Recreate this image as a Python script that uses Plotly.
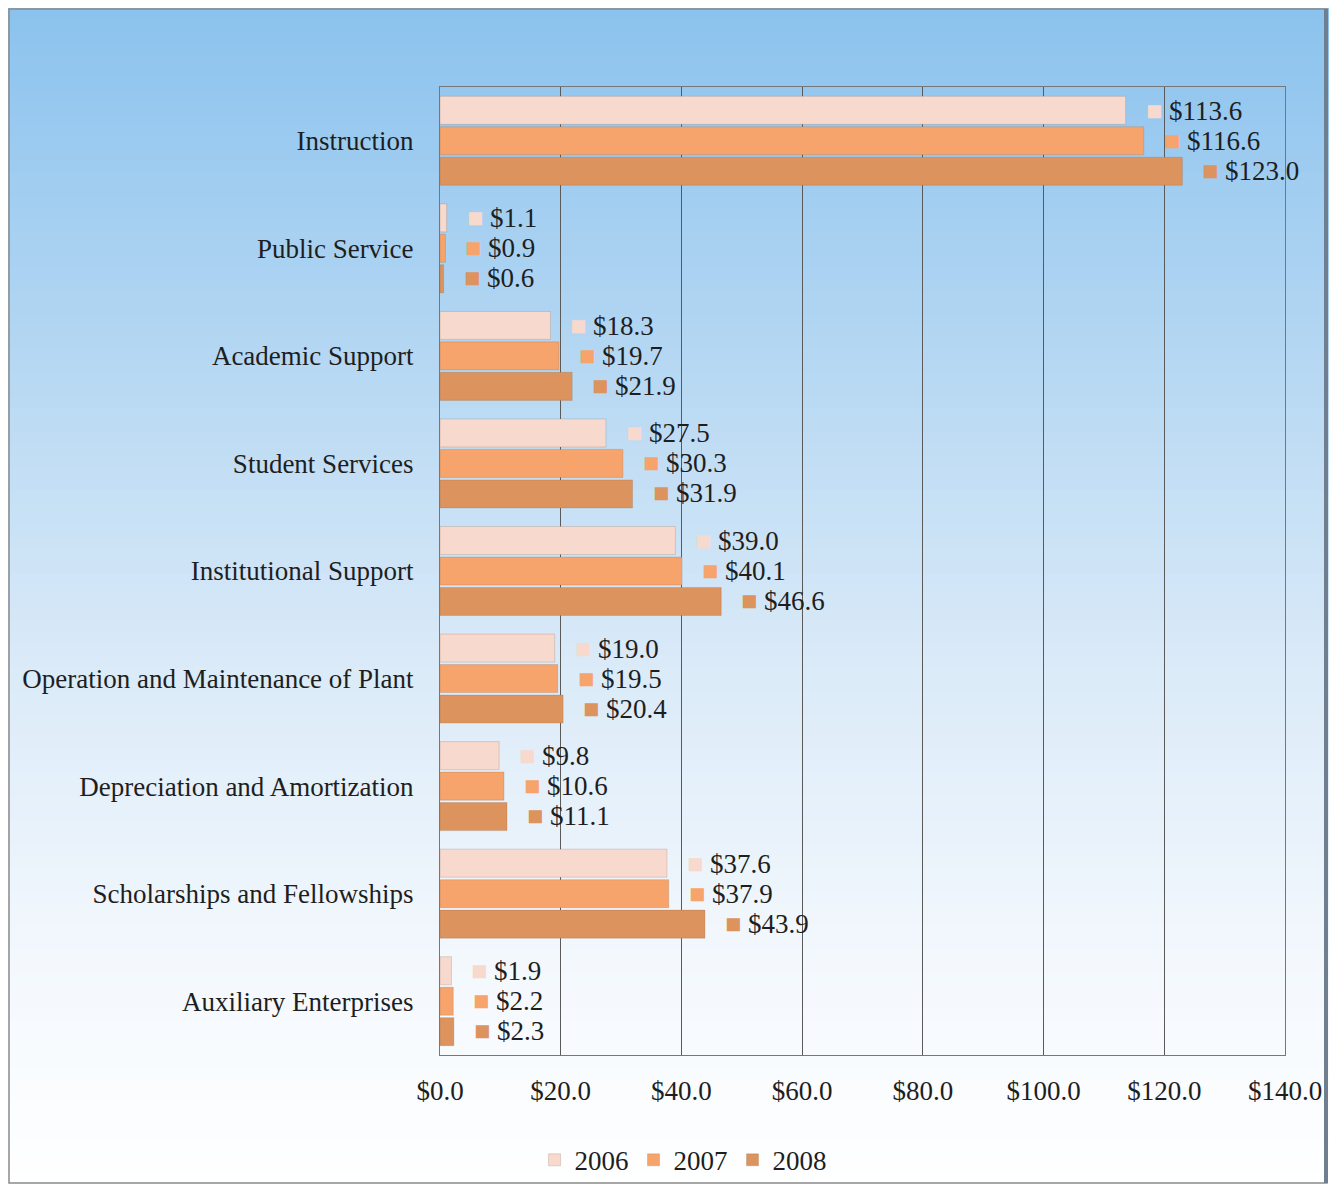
import plotly.graph_objects as go

categories = ["Instruction", "Public Service", "Academic Support", "Student Services",
              "Institutional Support", "Operation and Maintenance of Plant",
              "Depreciation and Amortization", "Scholarships and Fellowships",
              "Auxiliary Enterprises"]
years = ["2006", "2007", "2008"]
v2006 = [113.6, 1.1, 18.3, 27.5, 39.0, 19.0, 9.8, 37.6, 1.9]
v2007 = [116.6, 0.9, 19.7, 30.3, 40.1, 19.5, 10.6, 37.9, 2.2]
v2008 = [123.0, 0.6, 21.9, 31.9, 46.6, 20.4, 11.1, 43.9, 2.3]
series = [v2006, v2007, v2008]
colors = ["#F7D9CE", "#F6A46C", "#DC935E"]
tick_vals = [0, 20, 40, 60, 80, 100, 120, 140]
tick_text = ["$0.0", "$20.0", "$40.0", "$60.0", "$80.0", "$100.0", "$120.0", "$140.0"]

FONT = "Liberation Serif"
FS = 27
W, H = 1321, 1177
ML, MR, MT, MB = 432, 44, 79, 130
PW, PH = W - ML - MR, H - MT - MB

fig = go.Figure()
for name, vals, col in zip(years, series, colors):
    fig.add_trace(go.Bar(
        y=categories, x=vals, name=name, orientation="h",
        marker=dict(color=col, line=dict(color="rgba(120,90,70,0.35)", width=0.6)),
        hoverinfo="x+y+name",
    ))

annotations = []
shifts = [30, 0, -30]
for vals, col, ys in zip(series, colors, shifts):
    for c, v in zip(categories, vals):
        annotations.append(dict(
            x=v, y=c, xref="x", yref="y", xanchor="left", yanchor="middle",
            xshift=18, yshift=ys, showarrow=False,
            text=f"<span style='font-size:27px;color:{col}'>■</span> ${v:.1f}",
            font=dict(family=FONT, size=FS, color="#1e1e1e"),
        ))


def px2paper_x(px):
    return (px - ML) / PW


def px2paper_y(py):
    return 1 - (py - MT) / PH


# background gradient (strips in pixel space converted to paper coords)
stops = [(0.0, (140, 195, 238)), (0.3, (182, 216, 243)), (0.55, (218, 234, 248)),
         (0.8, (243, 248, 253)), (1.0, (255, 255, 255))]


def col_at(t):
    for (t0, c0), (t1, c1) in zip(stops[:-1], stops[1:]):
        if t0 <= t <= t1:
            f = (t - t0) / (t1 - t0)
            return "rgb(%d,%d,%d)" % tuple(round(a + (b - a) * f) for a, b in zip(c0, c1))
    return "rgb(255,255,255)"


shapes = []
N = 100
for i in range(N):
    top = i * H / N
    bot = (i + 1) * H / N + 1
    shapes.append(dict(type="rect", xref="paper", yref="paper", layer="below",
                       x0=px2paper_x(0), x1=px2paper_x(W),
                       y0=px2paper_y(bot), y1=px2paper_y(top),
                       line=dict(width=0), fillcolor=col_at(i / N)))
# outer frame
shapes.append(dict(type="rect", xref="paper", yref="paper", layer="above",
                   x0=px2paper_x(1), x1=px2paper_x(W - 2),
                   y0=px2paper_y(H - 2), y1=px2paper_y(1),
                   line=dict(color="#8a8a8a", width=1.5), fillcolor="rgba(0,0,0,0)"))
shapes.append(dict(type="line", xref="paper", yref="paper", layer="above",
                   x0=px2paper_x(W - 3), x1=px2paper_x(W - 3),
                   y0=px2paper_y(H - 2), y1=px2paper_y(1),
                   line=dict(color="#6f7f90", width=4)))

fig.update_layout(
    width=W, height=H,
    margin=dict(l=ML, r=MR, t=MT, b=MB, autoexpand=False),
    paper_bgcolor="white", plot_bgcolor="rgba(0,0,0,0)",
    barmode="group", bargap=0.15, bargroupgap=0.08,
    font=dict(family=FONT, size=FS, color="#1e1e1e"),
    showlegend=True,
    legend=dict(orientation="h", xref="container", yref="container",
                x=0.511, y=0.021, xanchor="center", yanchor="middle",
                font=dict(family=FONT, size=FS, color="#1e1e1e"),
                bgcolor="rgba(0,0,0,0)", itemwidth=30, tracegroupgap=0),
    xaxis=dict(range=[0, 140], tickvals=tick_vals, ticktext=tick_text,
               showgrid=True, gridcolor="#5a5a5a", gridwidth=1,
               zeroline=False, showline=True, linecolor="#777777", mirror=True,
               ticks="", ticklabelstandoff=12,
               tickfont=dict(family=FONT, size=FS, color="#1e1e1e")),
    yaxis=dict(autorange="reversed", showgrid=False, showline=True,
               linecolor="#777777", mirror=True, ticks="", ticklabelstandoff=20,
               tickfont=dict(family=FONT, size=FS, color="#1e1e1e")),
    annotations=annotations,
    shapes=shapes,
)

fig.write_html("out.html")
